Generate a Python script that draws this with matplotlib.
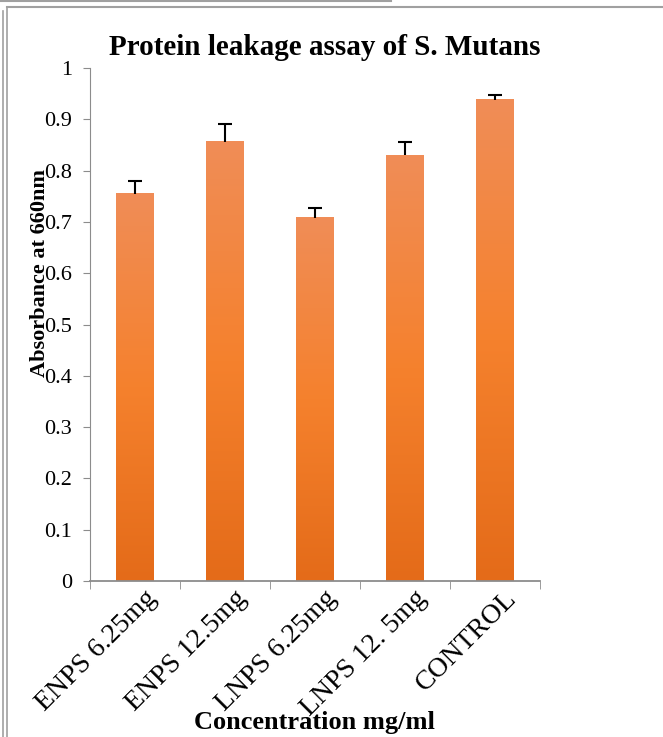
import numpy as np
import matplotlib
matplotlib.use("Agg")
import matplotlib.pyplot as plt
from matplotlib.colors import LinearSegmentedColormap
from matplotlib.lines import Line2D
import matplotlib.transforms as mtransforms

categories = ["ENPS 6.25mg", "ENPS 12.5mg", "LNPS 6.25mg", "LNPS 12. 5mg", "CONTROL"]
absorbance = [0.755, 0.856, 0.708, 0.830, 0.938]
errors = [0.024, 0.034, 0.019, 0.026, 0.009]

plt.rcParams['font.family'] = ['Liberation Serif', 'DejaVu Serif']

fig = plt.figure(figsize=(6.63, 7.37), dpi=100)
ax = fig.add_axes([0.1357, 0.2117, 0.679, 0.696])

# bar fill: light at the top, darker orange at the base (per bar)
grad = LinearSegmentedColormap.from_list("bar", ["#E46B19", "#F5812D", "#F08D57"])
grad_img = np.linspace(0, 1, 256).reshape(-1, 1)
width = 0.42
x = np.arange(len(categories))
for xi, v in zip(x, absorbance):
    ax.imshow(grad_img, cmap=grad, origin="lower", aspect="auto",
              extent=[xi - width / 2, xi + width / 2, 0, v], zorder=2)

# only the upper half of each error bar is shown
tops = np.array(absorbance) + np.array(errors)
ax.vlines(x, absorbance, tops, color="black", lw=1.5, zorder=3)
ax.hlines(tops, x - 0.08, x + 0.08, color="black", lw=1.5, zorder=3)

ax.set_xlim(-0.5, len(categories) - 0.5)
ax.set_ylim(0, 1)
ax.set_yticks(np.arange(0, 1.01, 0.1))
ax.set_yticklabels(["0"] + ["%.1f" % t for t in np.arange(0.1, 0.95, 0.1)] + ["1"])

for s in ["top", "right"]:
    ax.spines[s].set_visible(False)
ax.spines["left"].set_color("#8c8c8c")
ax.spines["bottom"].set_color("#8c8c8c")
ax.spines["bottom"].set_linewidth(1.3)
ax.tick_params(axis="y", direction="out", length=5, color="#8c8c8c", labelsize=16, pad=8)

ax.set_xticks(x)
ax.set_xticks(np.arange(-0.5, len(categories), 1.0), minor=True)
ax.tick_params(axis="x", which="major", length=0, labelsize=20)
ax.tick_params(axis="x", which="minor", direction="out", length=6, color="#8c8c8c")
offset = mtransforms.ScaledTranslation(0.09, 0.0, fig.dpi_scale_trans)
ax.set_xticklabels(categories, rotation=45, ha="right", va="top", rotation_mode="anchor")
for lbl in ax.get_xticklabels():
    lbl.set_transform(lbl.get_transform() + offset)

fig.text(0.49, 0.936, "Protein leakage assay of S. Mutans", ha="center", va="center",
         fontsize=21, fontweight="bold")
fig.text(0.06, 0.63, "Absorbance at 660nm", rotation=90, ha="center", va="center",
         fontsize=16, fontweight="bold")
fig.text(0.475, 0.02, "Concentration mg/ml", ha="center", va="center",
         fontsize=19, fontweight="bold")

# frame lines around the chart area
border = "#a0a0a0"
fig.add_artist(Line2D([0, 0.59], [0.999, 0.999], color=border, lw=1.5))
fig.add_artist(Line2D([0.011, 1], [0.991, 0.991], color=border, lw=1.5))
fig.add_artist(Line2D([0.004, 0.004], [0, 0.985], color=border, lw=1.2))
fig.add_artist(Line2D([0.011, 0.011], [0, 0.991], color=border, lw=1.2))

fig.savefig("out.png", dpi=100)
